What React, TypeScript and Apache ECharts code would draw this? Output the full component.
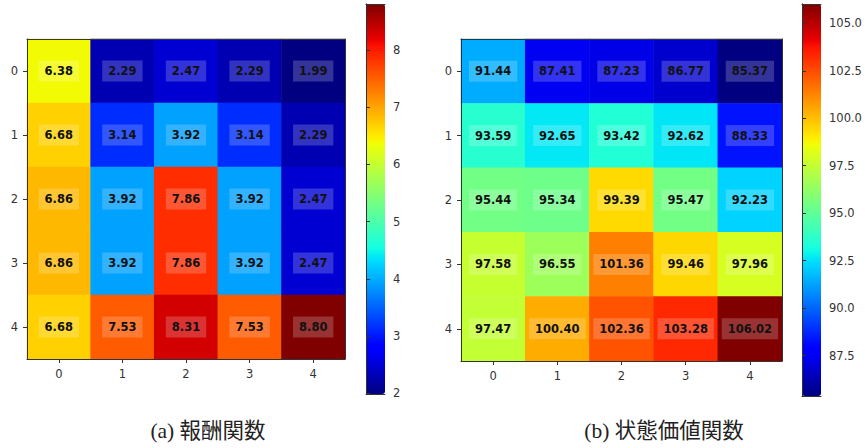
import React, { useEffect, useRef } from "react";
import * as echarts from "echarts";

const cells = ["0", "1", "2", "3", "4"];
const rewardRows = [
  [6.38, 2.29, 2.47, 2.29, 1.99],
  [6.68, 3.14, 3.92, 3.14, 2.29],
  [6.86, 3.92, 7.86, 3.92, 2.47],
  [6.86, 3.92, 7.86, 3.92, 2.47],
  [6.68, 7.53, 8.31, 7.53, 8.8],
];
const valueRows = [
  [91.44, 87.41, 87.23, 86.77, 85.37],
  [93.59, 92.65, 93.42, 92.62, 88.33],
  [95.44, 95.34, 99.39, 95.47, 92.23],
  [97.58, 96.55, 101.36, 99.46, 97.96],
  [97.47, 100.4, 102.36, 103.28, 106.02],
];
const rewardTicks = [2, 3, 4, 5, 6, 7, 8];
const valueTicks = [87.5, 90, 92.5, 95, 97.5, 100, 102.5, 105];
const captions = ["(a) 報酬関数", "(b) 状態価値関数"];

// matplotlib "jet" colormap segment data
const JET_R = [[0, 0], [0.35, 0], [0.66, 1], [0.89, 1], [1, 0.5]];
const JET_G = [[0, 0], [0.125, 0], [0.375, 1], [0.64, 1], [0.91, 0], [1, 0]];
const JET_B = [[0, 0.5], [0.11, 1], [0.34, 1], [0.65, 0], [1, 0]];
function seg(pts: number[][], t: number) {
  for (let i = 1; i < pts.length; i++) {
    if (t <= pts[i][0]) {
      const [x0, y0] = pts[i - 1];
      const [x1, y1] = pts[i];
      return y0 + ((t - x0) / (x1 - x0)) * (y1 - y0);
    }
  }
  return pts[pts.length - 1][1];
}
function jetColors(n: number) {
  const out: string[] = [];
  for (let i = 0; i < n; i++) {
    const t = i / (n - 1);
    const c = [seg(JET_R, t), seg(JET_G, t), seg(JET_B, t)].map((v) =>
      Math.round(Math.max(0, Math.min(1, v)) * 255)
    );
    out.push(`rgb(${c[0]},${c[1]},${c[2]})`);
  }
  return out;
}
const JET = jetColors(101);

const toData = (rows: number[][]) => {
  const d: number[][] = [];
  rows.forEach((r, y) => r.forEach((v, x) => d.push([x, y, v])));
  return d;
};
const minOf = (rows: number[][]) => Math.min(...rows.flat());
const maxOf = (rows: number[][]) => Math.max(...rows.flat());

const AX = "#333";
const FONT = "DejaVu Sans";

export default function App() {
  const ref = useRef<HTMLDivElement>(null);
  useEffect(() => {
    if (!ref.current) return;
    const chart = echarts.init(ref.current, undefined, { renderer: "svg" });

    const heatGrids = [
      { left: 27, top: 39, width: 318, height: 320 },
      { left: 461, top: 39, width: 321, height: 322 },
    ];
    const barGrids = [
      { left: 366, top: 4, width: 19, height: 390 },
      { left: 802, top: 4, width: 19, height: 392 },
    ];
    const captionX = [208, 664];
    const datasets = [rewardRows, valueRows];
    const tickSets = [rewardTicks, valueTicks];
    const tickFmt = [(v: number) => String(v), (v: number) => v.toFixed(1)];

    const grid: any[] = [...heatGrids, ...barGrids];
    const xAxis: any[] = [];
    const yAxis: any[] = [];
    const lineOnly = (extra: any) => ({
      axisLine: { show: true, onZero: false, lineStyle: { color: AX, width: 1 } },
      axisTick: { show: false },
      axisLabel: { show: false },
      splitLine: { show: false },
      z: 10,
      ...extra,
    });
    const tickLabel = { color: AX, fontFamily: FONT, fontSize: 11.5 };

    for (let g = 0; g < 2; g++) {
      xAxis.push({
        type: "category",
        data: cells,
        gridIndex: g,
        position: "bottom",
        axisLine: { show: true, lineStyle: { color: AX } },
        axisTick: { show: true, alignWithLabel: true, length: 4, lineStyle: { color: AX } },
        axisLabel: { ...tickLabel, margin: 9 },
        splitLine: { show: false },
        z: 10,
      });
      xAxis.push(lineOnly({ type: "category", data: cells, gridIndex: g, position: "top" }));
      yAxis.push({
        type: "category",
        data: cells,
        gridIndex: g,
        inverse: true,
        position: "left",
        axisLine: { show: true, lineStyle: { color: AX } },
        axisTick: { show: true, alignWithLabel: true, length: 4, lineStyle: { color: AX } },
        axisLabel: { ...tickLabel, margin: 9 },
        splitLine: { show: false },
        z: 10,
      });
      yAxis.push(lineOnly({ type: "category", data: cells, gridIndex: g, inverse: true, position: "right" }));
    }
    for (let g = 0; g < 2; g++) {
      const gi = g + 2;
      const mn = minOf(datasets[g]);
      const mx = maxOf(datasets[g]);
      xAxis.push(lineOnly({ type: "value", gridIndex: gi, position: "bottom", min: 0, max: 1 }));
      xAxis.push(lineOnly({ type: "value", gridIndex: gi, position: "top", min: 0, max: 1 }));
      yAxis.push(lineOnly({ type: "value", gridIndex: gi, position: "left", min: mn, max: mx }));
      yAxis.push({
        type: "value",
        gridIndex: gi,
        position: "right",
        min: mn,
        max: mx,
        axisLine: { show: true, lineStyle: { color: AX } },
        axisTick: { show: true, length: 4, customValues: tickSets[g], lineStyle: { color: AX } },
        axisLabel: {
          show: true,
          customValues: tickSets[g],
          formatter: tickFmt[g],
          ...tickLabel,
          margin: 8,
        },
        splitLine: { show: false },
        z: 10,
      });
    }

    const series: any[] = datasets.map((rows, g) => ({
      type: "heatmap",
      xAxisIndex: g * 2,
      yAxisIndex: g * 2,
      data: toData(rows),
      itemStyle: { borderWidth: 0 },
      label: {
        show: true,
        formatter: (p: any) => p.value[2].toFixed(2),
        color: "#111",
        fontFamily: FONT,
        fontWeight: "bold",
        fontSize: 11.5,
        lineHeight: 12,
        backgroundColor: "rgba(255,255,255,0.2)",
        padding: [5, 6, 4, 6],
      },
      emphasis: { disabled: true },
    }));
    for (let g = 0; g < 2; g++) {
      series.push({
        type: "scatter",
        xAxisIndex: 4 + g * 2,
        yAxisIndex: 4 + g * 2,
        data: [],
        silent: true,
      });
    }

    const visualMap = datasets.map((rows, g) => ({
      type: "continuous",
      seriesIndex: g,
      dimension: 2,
      min: minOf(rows),
      max: maxOf(rows),
      calculable: false,
      hoverLink: false,
      realtime: false,
      orient: "vertical",
      left: barGrids[g].left,
      top: barGrids[g].top,
      itemWidth: barGrids[g].width,
      itemHeight: barGrids[g].height,
      padding: 0,
      inRange: { color: JET },
      textStyle: { color: "transparent" },
      showLabel: false,
    }));

    const graphic = captions.map((t, i) => ({
      type: "text",
      x: captionX[i],
      y: 431,
      style: {
        text: t,
        fill: "#222",
        textAlign: "center",
        textVerticalAlign: "middle",
        font: `21.5px 'Liberation Serif', 'Noto Sans CJK JP'`,
      },
    }));

    chart.setOption({
      animation: false,
      backgroundColor: "#fff",
      grid,
      xAxis,
      yAxis,
      series,
      visualMap,
      graphic,
    });
    return () => chart.dispose();
  }, []);
  return (
    <div
      ref={ref}
      style={{ position: "fixed", left: 0, top: 0, width: 865, height: 448 }}
    />
  );
}
